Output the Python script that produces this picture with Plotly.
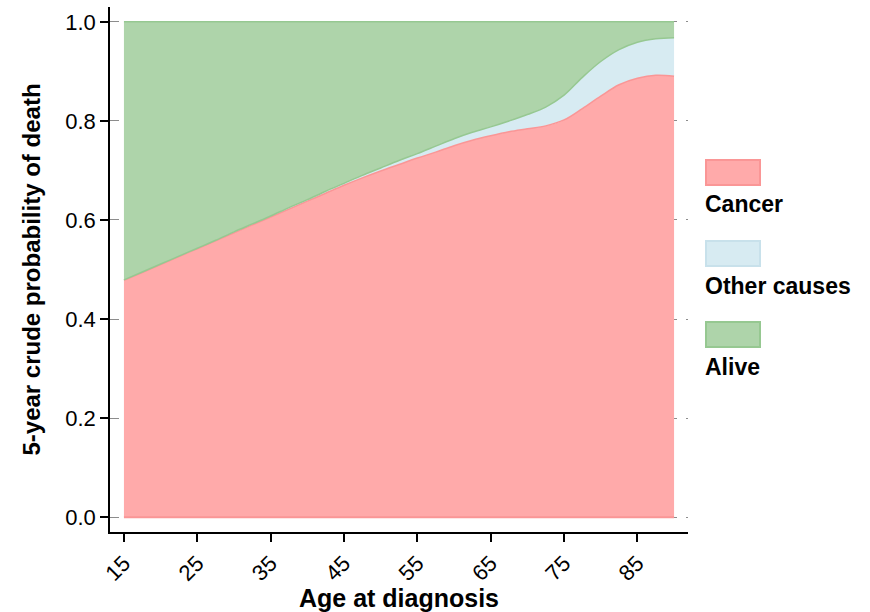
import plotly.graph_objects as go

# ---- data ----
age = [15, 17.5, 20, 22.5, 25, 27.5, 30, 32.5, 35, 37.5, 40, 42.5, 45, 47.5, 50, 52.5,
       55, 57.5, 60, 62.5, 65, 67.5, 70, 72.5, 75, 77.5, 80, 82.5, 85, 87.5, 90]
cancer = [0.478, 0.494, 0.510, 0.526, 0.542, 0.558, 0.574, 0.590, 0.606, 0.622, 0.638,
          0.654, 0.670, 0.685, 0.699, 0.712, 0.725, 0.737, 0.750, 0.761, 0.770, 0.778,
          0.784, 0.790, 0.802, 0.825, 0.850, 0.873, 0.886, 0.892, 0.890]
other = [0.001, 0.001, 0.001, 0.001, 0.001, 0.001, 0.002, 0.002, 0.002, 0.003, 0.003,
         0.004, 0.004, 0.005, 0.006, 0.008, 0.009, 0.012, 0.014, 0.016, 0.018, 0.022,
         0.029, 0.038, 0.050, 0.063, 0.070, 0.071, 0.073, 0.074, 0.078]
x_ticks = [15, 25, 35, 45, 55, 65, 75, 85]
y_ticks = [0.0, 0.2, 0.4, 0.6, 0.8, 1.0]
legend_labels = ["Cancer", "Other causes", "Alive"]

total = [c + o for c, o in zip(cancer, other)]
alive_top = [1.0 for _ in age]

pink_fill, pink_line = "rgb(255,170,170)", "rgb(250,150,150)"
blue_fill, blue_line = "rgb(215,235,242)", "rgb(200,225,235)"
green_fill, green_line = "rgb(174,212,170)", "rgb(150,200,145)"

FONT = "Liberation Sans, Arial, sans-serif"

fig = go.Figure()
fig.add_trace(go.Scatter(x=age, y=cancer, mode="lines", fill="tozeroy",
                         fillcolor=pink_fill, line=dict(color=pink_line, width=1.5, shape="spline"),
                         name="Cancer", showlegend=False, hoverinfo="skip"))
fig.add_trace(go.Scatter(x=age, y=total, mode="lines", fill="tonexty",
                         fillcolor=blue_fill, line=dict(color=green_line, width=1.5, shape="spline"),
                         name="Other causes", showlegend=False, hoverinfo="skip"))
fig.add_trace(go.Scatter(x=age, y=alive_top, mode="lines", fill="tonexty",
                         fillcolor=green_fill, line=dict(color=green_line, width=1.5, shape="spline"),
                         name="Alive", showlegend=False, hoverinfo="skip"))
# baseline outline of the cancer area
fig.add_trace(go.Scatter(x=[age[0], age[-1]], y=[0, 0], mode="lines",
                         line=dict(color=pink_line, width=2), showlegend=False, hoverinfo="skip"))

# custom legend: swatch above label
L, T, W, H = 110, 7, 578, 525
def px(xp):
    return (xp - L) / W
def py(yp):
    return (T + H - yp) / H

swatches = [(160, 185, 204, pink_fill, pink_line),
            (241, 266, 286, blue_fill, blue_line),
            (322, 347, 367, green_fill, green_line)]
shapes = []
annotations = []
for (y0, y1, yt, fc, lc), lab in zip(swatches, legend_labels):
    shapes.append(dict(type="rect", xref="paper", yref="paper",
                       x0=px(706), x1=px(760), y0=py(y1), y1=py(y0),
                       fillcolor=fc, line=dict(color=lc, width=2)))
    annotations.append(dict(xref="paper", yref="paper", x=px(703), y=py(yt),
                            xanchor="left", yanchor="middle", showarrow=False,
                            text="<b>%s</b>" % lab,
                            font=dict(size=23, color="black", family=FONT)))

fig.update_layout(
    width=870, height=612,
    margin=dict(l=L, r=870 - L - W, t=T, b=612 - T - H, autoexpand=False),
    paper_bgcolor="white", plot_bgcolor="white",
    font=dict(family=FONT, color="black", size=22),
    shapes=shapes, annotations=annotations,
    xaxis=dict(range=[13.1, 91.9], tickvals=x_ticks, tickangle=-45, automargin=False,
               showline=True, linecolor="black", linewidth=1.5,
               ticks="outside", ticklen=8, tickwidth=1.5, tickcolor="black",
               tickfont=dict(size=22), showgrid=False, zeroline=False,
               title=dict(text="<b>Age at diagnosis</b>", font=dict(size=25), standoff=4)),
    yaxis=dict(range=[-0.03, 1.03], tickvals=y_ticks, tickformat=".1f", automargin=False,
               showline=True, linecolor="black", linewidth=1.5,
               ticks="outside", ticklen=8, tickwidth=1.5, tickcolor="black",
               tickfont=dict(size=22),
               showgrid=True, gridcolor="rgb(140,140,140)", griddash="dash", gridwidth=1,
               zeroline=False,
               title=dict(text="<b>5-year crude probability of death</b>", font=dict(size=24), standoff=18)),
)

fig.write_html("out.html", config={"displayModeBar": False},
               post_script="document.body.style.margin='0';document.body.style.overflow='hidden';")
